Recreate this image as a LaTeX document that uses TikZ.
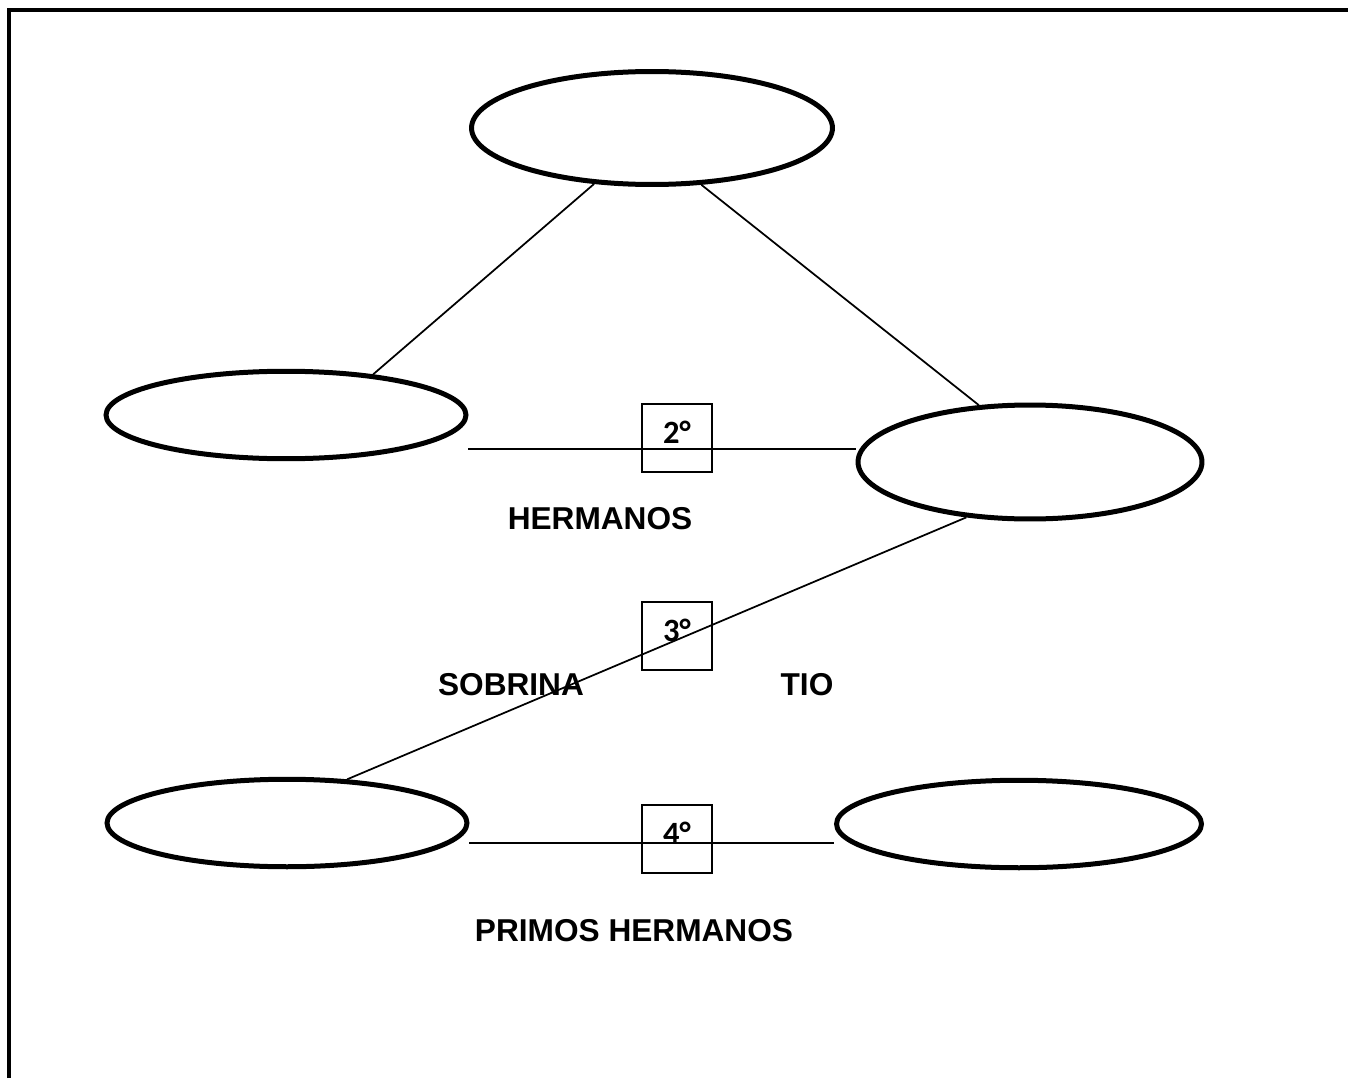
\documentclass[tikz,border=0pt]{standalone}
\usepackage{fontspec}
\setmainfont{Liberation Sans}
\newfontfamily\degreefont[BoldFont={Carlito Bold}]{Carlito}
\usetikzlibrary{shapes.geometric}
\tikzset{
  person/.style={
    ellipse,
    draw=black,
    line width=0.1cm,
    inner sep=0pt
  },
  person-wide/.style={person, minimum width=7.22cm, minimum height=2.26cm},
  person-flat/.style={person, minimum width=7.2cm, minimum height=1.75cm},
  link/.style={line width=0.035cm},
  degree-box/.style={draw=black, line width=0.045cm, minimum width=1.4cm, minimum height=1.36cm,
    inner sep=0pt, text depth=0.24cm, font=\degreefont\bfseries\fontsize{18.5}{20}\selectfont},
  kin-label/.style={inner sep=0pt, font=\bfseries\fontsize{18}{20}\selectfont}
}

\begin{document}
\begin{tikzpicture}[x=0.02cm, y=-0.02cm]
  \useasboundingbox (0,0) rectangle (1348,1078);
  % page frame
  \draw[line width=0.075cm] (9,1078) -- (9,10) -- (1348,10);
  % Persons
  \node[person-wide] (top)      at (652,128) {};
  \node[person-flat] (midleft)  at (286,415) {};
  \node[person, minimum width=6.88cm, minimum height=2.28cm] (midright) at (1030,462) {};
  \node[person-flat] (botleft)  at (287,823) {};
  \node[person-flat, minimum width=7.3cm] (botright) at (1019,824) {};
  % Links
  \draw[link] (top.-136) -- (midleft.25);
  \draw[link] (top.-49) -- (midright.132);
  \draw[link] ([yshift=-0.68cm]midleft.east) -- ([yshift=-0.68cm]midleft.east -| midright.west);
  \draw[link] (midright.-139) -- (botleft.36);
  \draw[link] ([yshift=-0.4cm]botleft.east) -- ([yshift=-0.4cm]botleft.east -| botright.west);
  % Degrees
  \node[degree-box] (deg2) at (677,438) {2°};
  \node[degree-box] (deg3) at (677,636) {3°};
  \node[degree-box] (deg4) at (677,839) {4°};
  % Labels
  \node[kin-label] (siblings) at (600,519) {HERMANOS};
  \node[kin-label] (niece)    at (511,685) {SOBRINA};
  \node[kin-label] (uncle)    at (807,685) {TIO};
  \node[kin-label] (cousins)  at (634,931) {PRIMOS HERMANOS};
\end{tikzpicture}
\end{document}
